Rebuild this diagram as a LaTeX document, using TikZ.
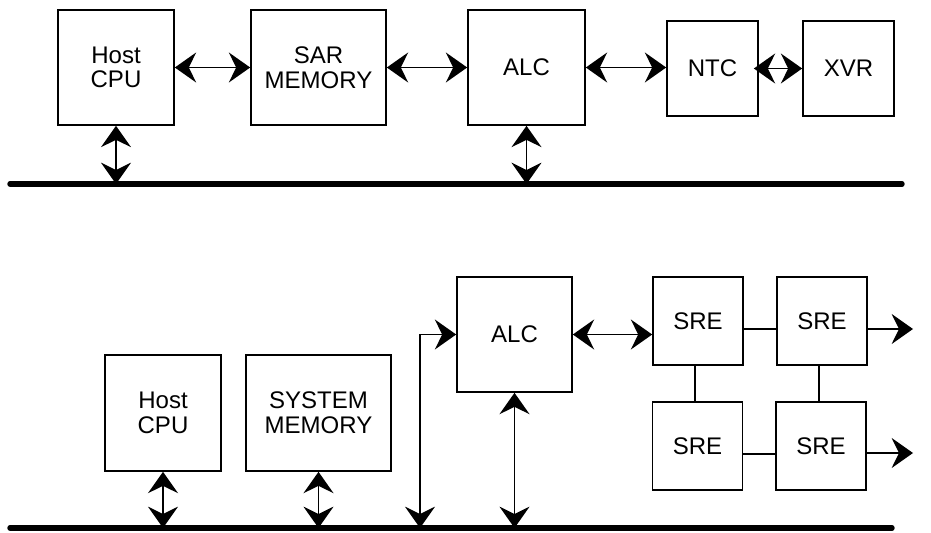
\documentclass[tikz,border=0pt]{standalone}
\usepackage{fontspec}
\setmainfont{Liberation Sans}
\usetikzlibrary{arrows.meta, positioning, calc}

\begin{document}
\begin{tikzpicture}[
  x=0.03cm, y=-0.03cm,
  every node/.style={font=\fontsize{20.5pt}{21pt}\selectfont},
  >={Stealth[length=0.64cm, width=0.9cm, inset=0.22cm]},
  blk/.style={rectangle, draw, line width=1.4pt, inner sep=0pt, align=center, minimum height=3.45cm},
  sreblk/.style={blk, minimum width=2.7cm, minimum height=2.64cm},
  link/.style={line width=1.5pt},
  bus/.style={line width=4.6pt, line cap=round},
]
\useasboundingbox (0,0) rectangle (931,532);

% upper system
\node[blk, minimum width=3.48cm] (hcpuT) at (116,67.5) {Host\\CPU};
\node[blk, minimum width=4.05cm] (sarT) at (318.5,67.5) {SAR\\MEMORY};
\node[blk, minimum width=3.51cm] (alcT) at (526.5,67.5) {ALC};
\node[blk, minimum width=2.73cm, minimum height=2.85cm] (ntcT) at (712.5,68.5) {NTC};
\node[blk, minimum width=2.73cm, minimum height=2.85cm] (xvrT) at (848.5,68.5) {XVR};
\coordinate (busTL) at (10,184);
\coordinate (busTR) at (902,184);
\draw[bus] (busTL) -- (busTR);
\draw[link, <->] (hcpuT) -- (sarT);
\draw[link, <->] (sarT) -- (alcT);
\draw[link, <->] (alcT.east) -- (alcT.east -| ntcT.west);
\draw[link, <->] ([xshift=-0.15cm]ntcT.east) -- (xvrT.west);
\draw[link, <->] (hcpuT.south) -- (hcpuT.south |- busTL);
\draw[link, <->] (alcT.south) -- (alcT.south |- busTL);

% lower system
\node[blk, minimum width=3.48cm, minimum height=3.48cm] (hcpuB) at (163,413) {Host\\CPU};
\node[blk, minimum width=4.35cm, minimum height=3.48cm] (smemB) at (318.5,413) {SYSTEM\\MEMORY};
\node[blk, minimum width=3.45cm] (alcB) at (514.5,334.5) {ALC};
\node[sreblk] (sreA) at (698,321) {SRE};
\node[sreblk] (sreB) at (822,321) {SRE};
\node[sreblk] (sreC) at (697.5,446) {SRE};
\node[sreblk] (sreD) at (821,446) {SRE};
\coordinate (busBL) at (10,528);
\coordinate (busBR) at (892,528);
\coordinate (tapB) at (420,528);
\coordinate (outA) at (913,329);
\coordinate (outB) at (913,453);
\draw[bus] (busBL) -- (busBR);
\draw[link, <->] (hcpuB.south) -- (hcpuB.south |- busBL);
\draw[link, <->] (smemB.south) -- (smemB.south |- busBL);
\draw[link, <->] (alcB.south) -- (alcB.south |- busBL);
\draw[link, <->] (tapB) |- (alcB.west);
\draw[link, <->] (alcB.east) -- (alcB.east -| sreA.west);
\draw[link] ([yshift=-0.24cm]sreA.east) -- ([yshift=-0.24cm]sreB.west);
\draw[link] ([yshift=-0.24cm]sreC.east) -- ([yshift=-0.24cm]sreD.west);
\draw[link] ([xshift=-0.09cm]sreA.south) -- ([xshift=-0.09cm]sreA.south |- sreC.north);
\draw[link] ([xshift=-0.09cm]sreB.south) -- ([xshift=-0.09cm]sreB.south |- sreD.north);
\draw[link, ->] (sreB.east |- outA) -- (outA);
\draw[link, ->] (sreD.east |- outB) -- (outB);
\end{tikzpicture}
\end{document}
